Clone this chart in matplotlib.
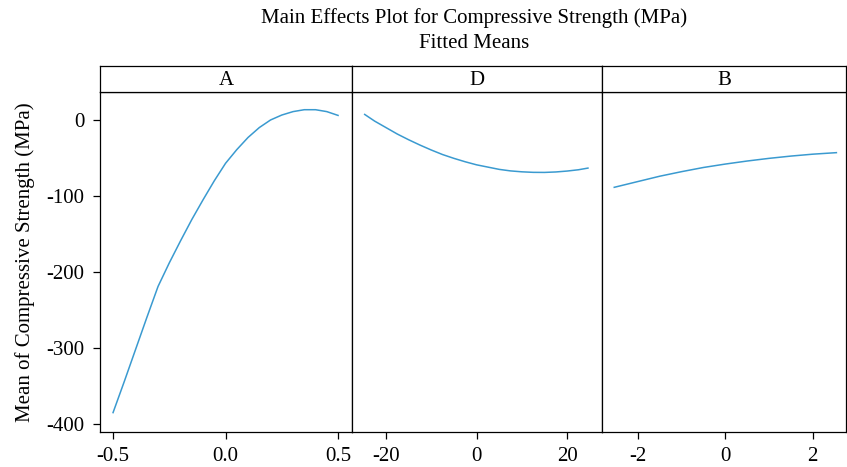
import numpy as np
import matplotlib
matplotlib.use('Agg')
import matplotlib.pyplot as plt

matplotlib.rcParams['font.family'] = ['Liberation Serif', 'DejaVu Serif']

# fitted means
a_x = [-0.5, -0.45, -0.4, -0.35, -0.3, -0.25, -0.2, -0.15, -0.1, -0.05, 0.0,
       0.05, 0.1, 0.15, 0.2, 0.25, 0.3, 0.35, 0.4, 0.45, 0.5]
a_y = [-385, -344, -302, -260, -219, -188, -159, -131, -105, -80, -57,
       -39, -23, -10, 0, 6.5, 11, 13.5, 13.5, 11, 6]
d_x = [-24.7, -22.5, -20, -17.5, -15, -12.5, -10, -7.5, -5, -2.5, 0, 2.5, 5,
       7.5, 10, 12.5, 15, 17.5, 20, 22.5, 24.6]
d_y = [7.3, -1.5, -10, -18.5, -26, -33, -39.5, -45.5, -50.5, -55, -59, -62,
       -65, -67, -68.2, -68.9, -69, -68.4, -67.2, -65.5, -63.3]
b_x = [-2.54, -2, -1.5, -1, -0.5, 0, 0.5, 1, 1.5, 2, 2.54]
b_y = [-88.6, -81, -74, -68, -62.5, -58, -54, -50.5, -47.5, -45, -43]

panels = ['A', 'D', 'B']
xs = [a_x, d_x, b_x]
ys = [a_y, d_y, b_y]
xticks = [[-0.5, 0.0, 0.5], [-20, 0, 20], [-2, 0, 2]]
xticklabels = [['-0.5', '0.0', '0.5'], ['-20', '0', '20'], ['-2', '0', '2']]
xlims = [(-0.558, 0.562), (-27.5, 27.7), (-2.82, 2.76)]
yticks = [0, -100, -200, -300, -400]

W, H = 847, 467
fig = plt.figure(figsize=(W / 100, H / 100), dpi=100)
edges = [100, 352, 602, 846]
top_plot, bottom_plot, top_head = 92, 432, 66
color = '#3a9ad0'
fs = 15

for i in range(3):
    x0, x1 = edges[i], edges[i + 1]
    ax = fig.add_axes([x0 / W, 1 - bottom_plot / H, (x1 - x0) / W, (bottom_plot - top_plot) / H])
    ax.plot(xs[i], ys[i], color=color, lw=1.1)
    ax.set_xlim(*xlims[i])
    ax.set_ylim(-410.5, 36.8)
    ax.set_xticks(xticks[i])
    ax.set_xticklabels(xticklabels[i])
    ax.tick_params(direction='out', length=5, width=0.9, labelsize=fs, pad=6)
    if i == 0:
        ax.set_yticks(yticks)
        ax.set_yticklabels([str(v) for v in yticks])
        ax.set_ylabel('Mean of Compressive Strength (MPa)', fontsize=fs, labelpad=8)
    else:
        ax.set_yticks([])
    for s in ax.spines.values():
        s.set_linewidth(0.9)

    hx = fig.add_axes([x0 / W, 1 - top_plot / H, (x1 - x0) / W, (top_plot - top_head) / H])
    hx.set_xticks([])
    hx.set_yticks([])
    for s in hx.spines.values():
        s.set_linewidth(0.9)
    hx.text(0.5, 0.45, panels[i], ha='center', va='center', fontsize=fs, transform=hx.transAxes)

fig.text(474 / W, 1 - 18 / H, 'Main Effects Plot for Compressive Strength (MPa)',
         ha='center', va='center', fontsize=fs)
fig.text(474 / W, 1 - 44 / H, 'Fitted Means', ha='center', va='center', fontsize=fs)

fig.savefig('out.png', dpi=100)
